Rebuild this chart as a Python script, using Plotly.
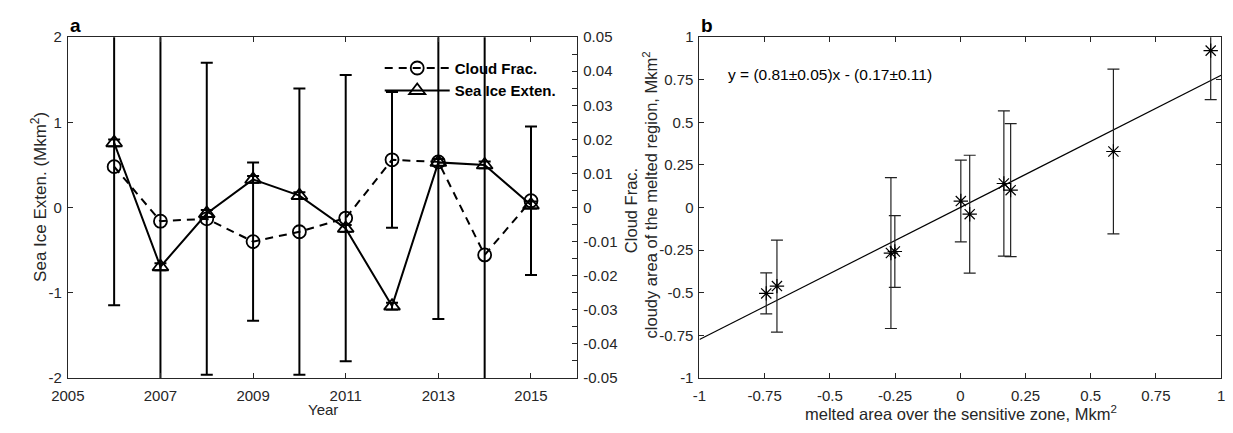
import plotly.graph_objects as go

# ---------------- data ----------------
years = [2006, 2007, 2008, 2009, 2010, 2011, 2012, 2013, 2014, 2015]
sea_ice_exten = [0.76, -0.695, -0.07, 0.33, 0.14, -0.245, -1.157, 0.53, 0.50, 0.03]
sea_ice_err = [0.04, 0.04, 0.04, 0.04, 0.04, 0.04, 0.04, 0.04, 0.04, 0.04]
cloud_frac = [0.0120, -0.0040, -0.0033, -0.0100, -0.0071, -0.0031, 0.0140, 0.0134, -0.0139, 0.0020]
cloud_frac_err = [0.0407, 0.0600, 0.0458, 0.0232, 0.0420, 0.0420, 0.0199, 0.0461, 0.0660, 0.0218]

year_ticks = [2005, 2007, 2009, 2011, 2013, 2015]
year_tick_labels = ["2005", "2007", "2009", "2011", "2013", "2015"]
left_ticks = [-2, -1, 0, 1, 2]
left_tick_labels = ["-2", "-1", "0", "1", "2"]
right_ticks = [-0.05, -0.04, -0.03, -0.02, -0.01, 0, 0.01, 0.02, 0.03, 0.04, 0.05]
right_tick_labels = ["-0.05", "-0.04", "-0.03", "-0.02", "-0.01", "0",
                     "0.01", "0.02", "0.03", "0.04", "0.05"]
right_minor_ticks = [-0.045, -0.035, -0.025, -0.015, -0.005, 0.005, 0.015, 0.025, 0.035, 0.045]

melted_area = [-0.744, -0.703, -0.266, -0.251, 0.002, 0.036, 0.167, 0.193, 0.587, 0.960]
cloudy_area = [-0.504, -0.461, -0.267, -0.258, 0.038, -0.039, 0.141, 0.102, 0.329, 0.921]
cloudy_area_err = [0.120, 0.270, 0.443, 0.210, 0.240, 0.346, 0.426, 0.390, 0.483, 0.288]
fit_x = [-1, 1]
fit_y = [-0.775, 0.776]
b_ticks = [-1, -0.75, -0.5, -0.25, 0, 0.25, 0.5, 0.75, 1]
b_tick_labels = ["-1", "-0.75", "-0.5", "-0.25", "0", "0.25", "0.5", "0.75", "1"]

# ---------------- layout helpers ----------------
W, H = 1233, 433
FONT = "Liberation Sans, Arial, Helvetica, sans-serif"
AX = "#262626"


def px(x):
    return x / W


def py(y):
    return 1 - y / H


dom_y = [py(384), py(29.3)]
dom_xa = [px(51.7), px(570)]
dom_xb = [px(694.3), px(1225)]

fig = go.Figure()

fig.add_trace(go.Scatter(
    x=years, y=cloud_frac, name="Cloud Frac.", xaxis="x", yaxis="y2",
    mode="lines+markers",
    line=dict(color="black", width=2, dash="8px,6px"),
    marker=dict(symbol="circle-open", size=13, color="black", line=dict(width=1.8, color="black")),
    error_y=dict(type="data", array=cloud_frac_err, visible=True, color="black", thickness=2, width=6),
))
fig.add_trace(go.Scatter(
    x=years, y=sea_ice_exten, name="Sea Ice Exten.", xaxis="x", yaxis="y",
    mode="lines+markers",
    line=dict(color="black", width=2),
    marker=dict(symbol="triangle-up-open", size=14, color="black", line=dict(width=1.8, color="black")),
    error_y=dict(type="data", array=sea_ice_err, visible=True, color="black", thickness=2, width=6),
))

fig.add_trace(go.Scatter(
    x=fit_x, y=fit_y, xaxis="x2", yaxis="y3", mode="lines",
    line=dict(color="black", width=1.2), showlegend=False,
))
fig.add_trace(go.Scatter(
    x=melted_area, y=cloudy_area, xaxis="x2", yaxis="y3", mode="markers",
    marker=dict(symbol="asterisk-open", size=12, color="black", line=dict(width=1.2, color="black")),
    error_y=dict(type="data", array=cloudy_area_err, visible=True, color="#222222", thickness=1.2, width=6),
    showlegend=False,
))

tickfont = dict(family=FONT, size=15, color=AX)
common = dict(showgrid=False, zeroline=False, showline=True, linecolor=AX, linewidth=1,
              ticks="inside", ticklen=5, tickcolor=AX, tickfont=tickfont)

fig.update_layout(
    width=W, height=H,
    margin=dict(l=0, r=0, t=0, b=0),
    paper_bgcolor="white", plot_bgcolor="rgba(0,0,0,0)",
    font=dict(family=FONT, color="black", size=15),
    xaxis=dict(domain=dom_xa, range=[2005, 2016], tickvals=year_ticks, ticktext=year_tick_labels,
               anchor="y", mirror="ticks", ticklabelstandoff=4, **common),
    yaxis=dict(domain=dom_y, range=[-2, 2], tickvals=left_ticks, ticktext=left_tick_labels,
               anchor="x", ticklabelstandoff=2, **common),
    yaxis2=dict(domain=dom_y, range=[-0.05, 0.05], tickvals=right_ticks, ticktext=right_tick_labels,
                overlaying="y", side="right", anchor="x", ticklabelstandoff=2,
                minor=dict(tickvals=right_minor_ticks, ticks="inside", ticklen=5, tickcolor=AX),
                **common),
    xaxis2=dict(domain=dom_xb, range=[-1, 1], tickvals=b_ticks, ticktext=b_tick_labels,
                anchor="y3", mirror="ticks", ticklabelstandoff=4, **common),
    yaxis3=dict(domain=dom_y, range=[-1, 1], tickvals=b_ticks, ticktext=b_tick_labels,
                anchor="x2", mirror="ticks", ticklabelstandoff=2, **common),
    legend=dict(x=px(369), y=py(44.5), xanchor="left", yanchor="top", bgcolor="rgba(0,0,0,0)",
                itemwidth=65, font=dict(family=FONT, size=15, color="black", weight="bold"),
                tracegroupgap=0),
    showlegend=True,
)

annots = [
    dict(text="<b>a</b>", x=px(52), y=py(17), xanchor="left", yanchor="middle", font=dict(size=19)),
    dict(text="<b>b</b>", x=px(694), y=py(17), xanchor="left", yanchor="middle", font=dict(size=19)),
    dict(text="Year", x=px(311), y=py(417), xanchor="center", yanchor="middle", font=dict(size=15, color=AX)),
    dict(text="melted area over the sensitive zone, Mkm<sup>2</sup>", x=px(960), y=py(421),
         xanchor="center", yanchor="middle", font=dict(size=16.5, color=AX)),
    dict(text="Sea Ice Exten. (Mkm<sup>2</sup>)", x=px(23), y=py(196), textangle=-90,
         xanchor="center", yanchor="middle", font=dict(size=17, color=AX)),
    dict(text="Cloud Frac.", x=px(624), y=py(210), textangle=-90,
         xanchor="center", yanchor="middle", font=dict(size=16.5, color=AX)),
    dict(text="cloudy area of the melted region, Mkm<sup>2</sup>", x=px(644), y=py(194), textangle=-90,
         xanchor="center", yanchor="middle", font=dict(size=16.5, color=AX)),
    dict(text="y = (0.81\u00b10.05)x - (0.17\u00b10.11)", x=px(721), y=py(68),
         xanchor="left", yanchor="middle", font=dict(size=15.5, color="black")),
]
for a in annots:
    a.update(xref="paper", yref="paper", showarrow=False)
    a["font"] = dict(family=FONT, **a["font"])
fig.update_layout(annotations=annots)

# remove the empty (unused) title placeholders plotly creates
post_js = (
    "document.body.style.margin='0px';document.body.style.overflow='hidden';"
    "document.querySelectorAll('text').forEach(function(t){"
    "if(!t.textContent || !t.textContent.trim()){t.parentNode.removeChild(t);}});"
)

fig.write_html(
    "out.html",
    config={"displayModeBar": False},
    post_script=post_js,
)
